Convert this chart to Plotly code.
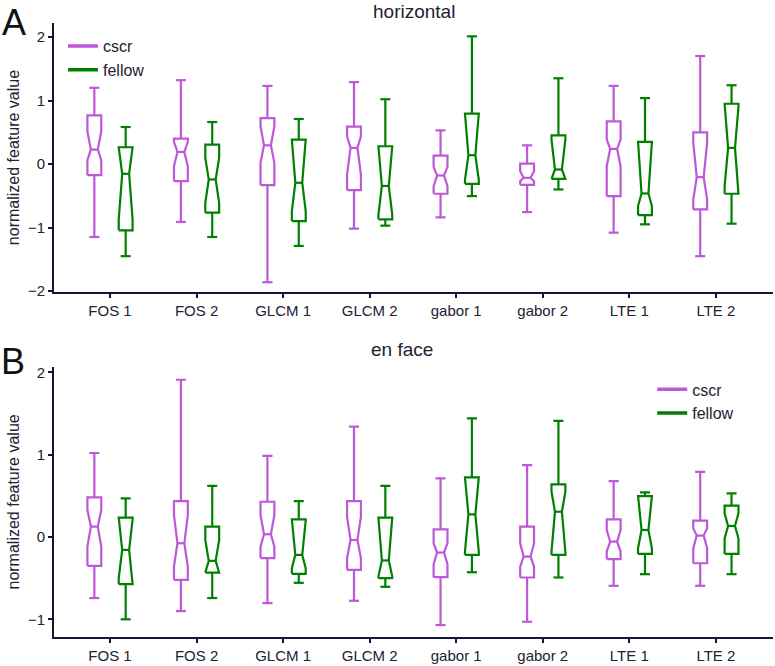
import plotly.graph_objects as go

categories = ["FOS 1", "FOS 2", "GLCM 1", "GLCM 2", "gabor 1", "gabor 2", "LTE 1", "LTE 2"]

# ---- Panel A: horizontal ----
h_cscr_upper = [1.20, 1.32, 1.23, 1.29, 0.53, 0.295, 1.23, 1.70]
h_cscr_q3 = [0.766, 0.40, 0.724, 0.588, 0.133, 0.008, 0.672, 0.499]
h_cscr_nhi = [0.515, 0.348, 0.594, 0.437, -0.044, -0.112, 0.384, 0.332]
h_cscr_med = [0.227, 0.19, 0.295, 0.254, -0.18, -0.217, 0.238, -0.207]
h_cscr_nlo = [0.06, -0.034, 0.018, -0.165, -0.348, -0.269, -0.034, -0.557]
h_cscr_q1 = [-0.175, -0.27, -0.332, -0.41, -0.468, -0.327, -0.505, -0.714]
h_cscr_lower = [-1.148, -0.912, -1.86, -1.017, -0.839, -0.756, -1.08, -1.45]

h_fellow_upper = [0.583, 0.661, 0.709, 1.02, 2.01, 1.35, 1.038, 1.24]
h_fellow_q3 = [0.264, 0.306, 0.384, 0.28, 0.792, 0.452, 0.348, 0.949]
h_fellow_nhi = [0.264, 0.097, 0.384, 0.28, 0.792, 0.384, 0.348, 0.90]
h_fellow_med = [-0.154, -0.243, -0.295, -0.345, 0.139, -0.086, -0.463, 0.254]
h_fellow_nlo = [-0.87, -0.61, -0.74, -0.80, -0.25, -0.233, -0.661, -0.348]
h_fellow_q1 = [-1.043, -0.766, -0.897, -0.87, -0.311, -0.233, -0.803, -0.468]
h_fellow_lower = [-1.45, -1.148, -1.289, -0.97, -0.505, -0.40, -0.949, -0.939]

# ---- Panel B: en face ----
e_cscr_upper = [1.02, 1.91, 0.985, 1.34, 0.711, 0.872, 0.679, 0.792]
e_cscr_q3 = [0.481, 0.436, 0.428, 0.436, 0.093, 0.126, 0.214, 0.198]
e_cscr_nhi = [0.327, 0.267, 0.267, 0.247, -0.076, -0.076, 0.085, 0.105]
e_cscr_med = [0.126, -0.076, 0.033, -0.036, -0.189, -0.238, -0.056, 0.017]
e_cscr_nlo = [-0.117, -0.359, -0.117, -0.258, -0.331, -0.359, -0.177, -0.137]
e_cscr_q1 = [-0.351, -0.52, -0.258, -0.399, -0.488, -0.492, -0.27, -0.319]
e_cscr_lower = [-0.742, -0.90, -0.803, -0.775, -1.07, -1.03, -0.593, -0.593]

e_fellow_upper = [0.469, 0.622, 0.436, 0.62, 1.44, 1.41, 0.541, 0.529]
e_fellow_q3 = [0.235, 0.126, 0.214, 0.235, 0.723, 0.638, 0.497, 0.38]
e_fellow_nhi = [0.21, -0.036, 0.20, 0.235, 0.723, 0.549, 0.497, 0.287]
e_fellow_med = [-0.157, -0.29, -0.218, -0.285, 0.275, 0.307, 0.085, 0.134]
e_fellow_nlo = [-0.50, -0.432, -0.379, -0.48, -0.177, -0.177, -0.137, -0.016]
e_fellow_q1 = [-0.573, -0.432, -0.448, -0.50, -0.218, -0.218, -0.206, -0.206]
e_fellow_lower = [-1.0, -0.742, -0.557, -0.605, -0.428, -0.492, -0.452, -0.452]

CSCR = "#BD58D8"
FELLOW = "#008000"
AX = "#15173a"
TXT = "#222233"
FONT = "Liberation Sans"

OFFSET = 0.181      # horizontal shift of each group's box from the category tick
HALF_W = 0.080      # half box width (x units)
NOTCH_W = 0.040     # half width at the median notch
CAP_W = 0.058       # half width of whisker caps


def box_path(side, upper, q3, nhi, med, nlo, q1, lower):
    xs, ys = [], []
    for i in range(len(categories)):
        c = i + side * OFFSET
        hi = min(nhi[i], q3[i])
        lo = max(nlo[i], q1[i])
        # notched outline
        xs += [c - HALF_W, c - HALF_W, c - NOTCH_W, c - HALF_W, c - HALF_W,
               c + HALF_W, c + HALF_W, c + NOTCH_W, c + HALF_W, c + HALF_W, c - HALF_W, None]
        ys += [q1[i], lo, med[i], hi, q3[i], q3[i], hi, med[i], lo, q1[i], q1[i], None]
        # median
        xs += [c - NOTCH_W, c + NOTCH_W, None]
        ys += [med[i], med[i], None]
        # whiskers + caps
        xs += [c, c, None, c - CAP_W, c + CAP_W, None, c, c, None, c - CAP_W, c + CAP_W, None]
        ys += [q3[i], upper[i], None, upper[i], upper[i], None,
               q1[i], lower[i], None, lower[i], lower[i], None]
    return xs, ys


fig = go.Figure()


def add_series(name, color, side, data, xa, ya):
    xs, ys = box_path(side, *data)
    fig.add_trace(go.Scatter(x=xs, y=ys, mode="lines", name=name,
                             line=dict(color=color, width=2.2),
                             showlegend=False, hoverinfo="skip",
                             xaxis=xa, yaxis=ya))


add_series("cscr", CSCR, -1, (h_cscr_upper, h_cscr_q3, h_cscr_nhi, h_cscr_med, h_cscr_nlo, h_cscr_q1, h_cscr_lower), "x", "y")
add_series("fellow", FELLOW, 1, (h_fellow_upper, h_fellow_q3, h_fellow_nhi, h_fellow_med, h_fellow_nlo, h_fellow_q1, h_fellow_lower), "x", "y")
add_series("cscr", CSCR, -1, (e_cscr_upper, e_cscr_q3, e_cscr_nhi, e_cscr_med, e_cscr_nlo, e_cscr_q1, e_cscr_lower), "x2", "y2")
add_series("fellow", FELLOW, 1, (e_fellow_upper, e_fellow_q3, e_fellow_nhi, e_fellow_med, e_fellow_nlo, e_fellow_q1, e_fellow_lower), "x2", "y2")

for lg, xa, ya in [("legend", "x", "y"), ("legend2", "x2", "y2")]:
    for name, color in [("cscr", CSCR), ("fellow", FELLOW)]:
        fig.add_trace(go.Scatter(x=[None], y=[None], mode="lines", name=name,
                                 line=dict(color=color, width=3.5), legend=lg,
                                 xaxis=xa, yaxis=ya, showlegend=True))

axis_common = dict(showline=True, linecolor=AX, linewidth=2, ticks="outside",
                   tickcolor=AX, tickwidth=2, ticklen=4, showgrid=False, zeroline=False,
                   tickfont=dict(family=FONT, size=15, color=TXT))
x_common = dict(range=[-0.647, 7.66], tickvals=list(range(len(categories))),
                ticktext=categories, **axis_common)
ytitle = dict(text="normalized feature value", font=dict(family=FONT, size=16, color=TXT), standoff=4)

fig.update_layout(
    width=775, height=666,
    margin=dict(l=54, r=2, t=23, b=27),
    paper_bgcolor="white", plot_bgcolor="white",
    font=dict(family=FONT, color=TXT),
    xaxis=dict(anchor="y", domain=[0, 1], **x_common),
    yaxis=dict(anchor="x", domain=[0.5617, 1], range=[-2.016, 2.22],
               tickvals=[-2, -1, 0, 1, 2], title=ytitle, **axis_common),
    xaxis2=dict(anchor="y2", domain=[0, 1], **x_common),
    yaxis2=dict(anchor="x2", domain=[0, 0.44], range=[-1.215, 2.067],
                tickvals=[-1, 0, 1, 2], title=ytitle, **axis_common),
    legend=dict(x=0.0125, y=0.990, xanchor="left", yanchor="top", bgcolor="rgba(0,0,0,0)",
                font=dict(family=FONT, size=16, color=TXT), tracegroupgap=0),
    legend2=dict(x=0.832, y=0.431, xanchor="left", yanchor="top", bgcolor="rgba(0,0,0,0)",
                 font=dict(family=FONT, size=16, color=TXT), tracegroupgap=0),
    annotations=[
        dict(text="horizontal", x=0.5, y=(639 - 11) / 616, xref="paper", yref="paper",
             showarrow=False, xanchor="center", yanchor="middle",
             font=dict(family=FONT, size=19, color=TXT)),
        dict(text="en face", x=(402 - 54) / 719, y=(639 - 351) / 616, xref="paper", yref="paper",
             showarrow=False, xanchor="center", yanchor="middle",
             font=dict(family=FONT, size=19, color=TXT)),
        dict(text="A", x=(14 - 54) / 719, y=(639 - 0.5) / 616, xref="paper", yref="paper",
             showarrow=False, xanchor="center", yanchor="top", borderpad=0,
             font=dict(family=FONT, size=36, color="#111111")),
        dict(text="B", x=(13 - 54) / 719, y=(639 - 341) / 616, xref="paper", yref="paper",
             showarrow=False, xanchor="center", yanchor="top", borderpad=0,
             font=dict(family=FONT, size=36, color="#111111")),
    ],
)

fig.write_html("out.html")
